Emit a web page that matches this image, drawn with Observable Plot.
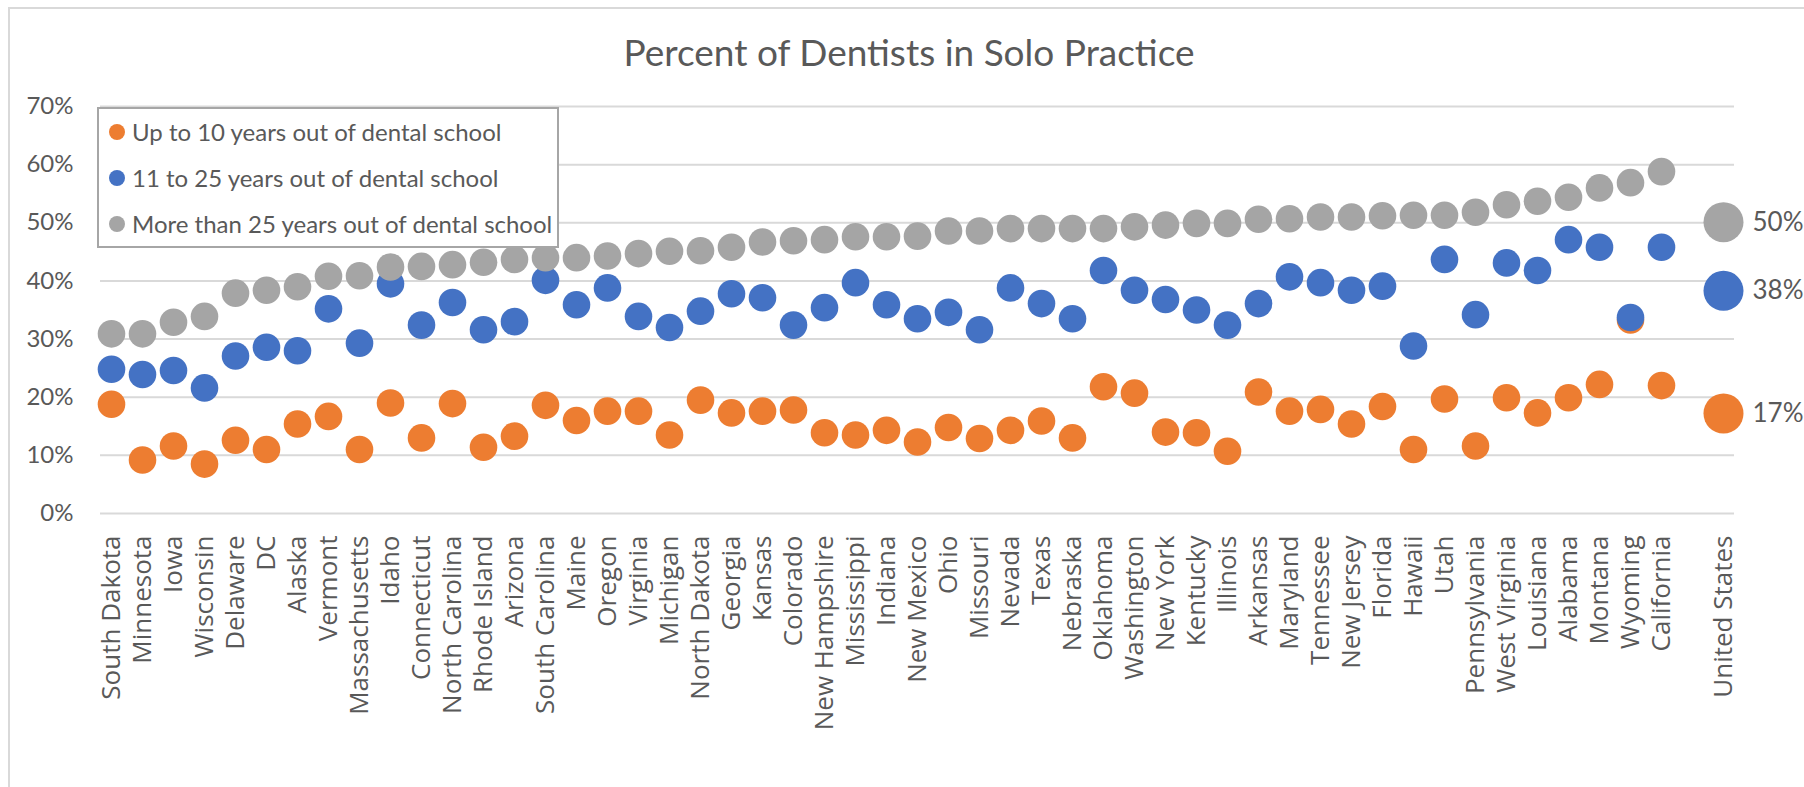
<!DOCTYPE html>
<html>
<head>
<meta charset="utf-8">
<script src="https://cdn.jsdelivr.net/npm/d3@7"></script>
<script src="https://cdn.jsdelivr.net/npm/@observablehq/plot@0.6"></script>
<style>
  body { margin: 0; background: #fff; }
  #wrap { position: relative; width: 1804px; height: 787px; overflow: hidden; background: #fff; }
  #frame { position: absolute; left: 8px; top: 7px; width: 1900px; height: 900px;
           border-left: 2px solid #d9d9d9; border-top: 2px solid #d9d9d9; }
  #chart { position: absolute; left: 0; top: 0; }
  #title { position: absolute; left: 0; width: 1818px; top: 32px; text-align: center;
           font-family: Lato, sans-serif; font-size: 37px; line-height: 40px; color: #595959; }
  #legend { position: absolute; left: 97px; top: 107px; width: 458px; height: 137px;
            border: 2px solid #a6a6a6; background: #fff; font-family: Lato, sans-serif;
            font-size: 24px; color: #595959; }
  .row { position: absolute; left: 0; height: 30px; line-height: 30px; white-space: nowrap; }
  .sw { position: absolute; left: 10px; top: 7px; width: 16px; height: 16px; border-radius: 50%; }
  .lt { position: absolute; left: 33px; top: 0; }
</style>
</head>
<body>
<div id="wrap">
  <div id="frame"></div>
  <div id="chart"></div>
  <div id="title">Percent of Dentists in Solo Practice</div>
  <div id="legend"></div>
</div>
<script>
// ---- data ----
const states = ["South Dakota","Minnesota","Iowa","Wisconsin","Delaware","DC","Alaska","Vermont","Massachusetts","Idaho","Connecticut","North Carolina","Rhode Island","Arizona","South Carolina","Maine","Oregon","Virginia","Michigan","North Dakota","Georgia","Kansas","Colorado","New Hampshire","Mississippi","Indiana","New Mexico","Ohio","Missouri","Nevada","Texas","Nebraska","Oklahoma","Washington","New York","Kentucky","Illinois","Arkansas","Maryland","Tennessee","New Jersey","Florida","Hawaii","Utah","Pennsylvania","West Virginia","Louisiana","Alabama","Montana","Wyoming","California"];
const upTo10 = [18.8, 9.2, 11.6, 8.5, 12.6, 11.0, 15.4, 16.7, 11.0, 19.0, 13.0, 18.9, 11.4, 13.3, 18.6, 16.0, 17.6, 17.6, 13.5, 19.5, 17.3, 17.6, 17.8, 13.9, 13.5, 14.3, 12.3, 14.8, 12.9, 14.3, 15.9, 13.0, 21.8, 20.7, 14.0, 13.9, 10.7, 20.9, 17.6, 17.9, 15.4, 18.4, 11.0, 19.7, 11.6, 19.9, 17.3, 19.9, 22.2, 33.3, 22.0];
const from11to25 = [24.8, 23.9, 24.6, 21.6, 27.1, 28.6, 28.0, 35.2, 29.3, 39.5, 32.4, 36.3, 31.6, 33.0, 40.1, 35.9, 38.8, 33.9, 32.0, 34.8, 37.8, 37.1, 32.4, 35.4, 39.7, 35.9, 33.5, 34.6, 31.6, 38.8, 36.1, 33.5, 41.8, 38.4, 36.8, 35.0, 32.4, 36.1, 40.7, 39.7, 38.4, 39.1, 28.8, 43.7, 34.2, 43.1, 41.8, 47.1, 45.8, 33.7, 45.8];
const over25 = [30.9, 30.9, 32.9, 33.9, 37.9, 38.4, 39.0, 40.8, 40.9, 42.4, 42.5, 42.8, 43.2, 43.7, 44.0, 44.0, 44.3, 44.7, 45.1, 45.2, 45.8, 46.7, 46.9, 47.1, 47.6, 47.6, 47.7, 48.6, 48.6, 49.0, 49.0, 49.0, 49.0, 49.3, 49.6, 49.9, 49.9, 50.6, 50.7, 51.0, 51.0, 51.2, 51.3, 51.3, 51.8, 53.1, 53.7, 54.4, 56.0, 56.9, 58.8];
const usLabel = "United States";
const usValues = [17.2, 38.3, 50.1]; // up to 10, 11-25, >25
const seriesNames = ["Up to 10 years out of dental school", "11 to 25 years out of dental school", "More than 25 years out of dental school"];
const seriesColors = ["#ED7D31", "#4472C4", "#A5A5A5"];
const yTicks = [0, 10, 20, 30, 40, 50, 60, 70];

// ---- build tables ----
const seriesValues = [upTo10, from11to25, over25];
const stateRows = seriesValues.map((vals, s) => states.map((st, i) => ({state: st, value: vals[i], series: s})));
const usRows = usValues.map((v, s) => ({state: usLabel, value: v, series: s}));
const gap = " ";

const marks = [
  Plot.ruleY(yTicks, {stroke: "#d9d9d9", strokeWidth: 2}),
  Plot.axisY({ticks: yTicks, tickFormat: d => d + "%", tickSize: 0, tickPadding: 27,
              fontSize: 24, fontFamily: "Lato", fill: "#595959", label: null}),
  Plot.axisX({tickSize: 0, tickPadding: 22, tickRotate: -90, fontSize: 26,
              fontFamily: "Open Sans", fill: "#595959", label: null,
              tickFormat: d => d.trim()})
];
stateRows.forEach((rows, s) => {
  marks.push(Plot.dot(rows, {x: "state", y: "value", r: 13.8, fill: seriesColors[s], stroke: "none"}));
});
usRows.forEach((row, s) => {
  marks.push(Plot.dot([row], {x: "state", y: "value", r: 20, fill: seriesColors[s], stroke: "none"}));
});
marks.push(Plot.text(usRows, {x: "state", y: "value", text: d => Math.round(d.value) + "%",
  dx: 29, textAnchor: "start", fontSize: 26, fontFamily: "Lato", fill: "#595959"}));

const chart = Plot.plot({
  width: 1804, height: 787,
  marginLeft: 100, marginRight: 70, marginTop: 106, marginBottom: 274,
  x: {domain: [...states, gap, usLabel], padding: 0, axis: null},
  y: {domain: [0, 70], axis: null},
  style: {background: "transparent", color: "#595959", overflow: "visible"},
  marks
});
document.getElementById("chart").appendChild(chart);

// ---- legend ----
const legend = document.getElementById("legend");
seriesNames.forEach((name, s) => {
  const row = document.createElement("div");
  row.className = "row";
  row.style.top = (8 + s * 46) + "px";
  const sw = document.createElement("span");
  sw.className = "sw";
  sw.style.background = seriesColors[s];
  const lt = document.createElement("span");
  lt.className = "lt";
  lt.textContent = name;
  row.appendChild(sw); row.appendChild(lt);
  legend.appendChild(row);
});
</script>
</body>
</html>
